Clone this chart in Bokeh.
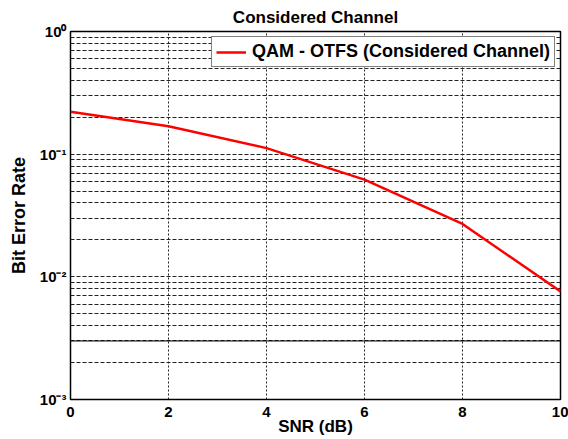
from bokeh.plotting import figure
from bokeh.models import Range1d, FixedTicker, Span, Legend, LegendItem
from bokeh.embed import file_html
from bokeh.resources import INLINE

# data
snr_db = [0, 2, 4, 6, 8, 10]
ber = [0.222, 0.169, 0.112, 0.062, 0.027, 0.0076]
series_name = "QAM - OTFS (Considered Channel)"
title_text = "Considered Channel"

x_ticks = [0, 2, 4, 6, 8, 10]
y_major = [0.001, 0.01, 0.1, 1]
y_labels = ["10\u207b\u00b3", "10\u207b\u00b2", "10\u207b\u00b9", "10\u2070"]
y_minor = [m * d for d in [0.001, 0.01, 0.1] for m in [2, 3, 4, 5, 6, 7, 8, 9]]
solid_line_at = 3e-3

FONT = "Liberation Sans"

p = figure(width=568, height=439, output_backend="svg", toolbar_location=None,
           y_axis_type="log", x_range=Range1d(0, 10), y_range=Range1d(1e-3, 1),
           min_border_left=70, min_border_right=8, min_border_top=31, min_border_bottom=40)

p.title.text = title_text
p.title.align = "center"
p.title.text_font = FONT
p.title.text_font_style = "bold"
p.title.text_font_size = "17px"
p.title.text_color = "black"
p.title.standoff = 10

p.background_fill_color = "white"
p.border_fill_color = "white"
p.outline_line_color = "black"
p.outline_line_width = 1.5

# grids
p.xaxis.ticker = FixedTicker(ticks=x_ticks)
p.yaxis.ticker = FixedTicker(ticks=y_major, minor_ticks=y_minor)
p.xgrid.grid_line_color = "#222222"
p.xgrid.grid_line_dash = "2 2"
p.xgrid.grid_line_width = 1
p.ygrid.grid_line_color = "#222222"
p.ygrid.grid_line_dash = "4 2"
p.ygrid.grid_line_width = 1
p.ygrid.minor_grid_line_color = "#222222"
p.ygrid.minor_grid_line_dash = "4 2"
p.ygrid.minor_grid_line_width = 1

p.add_layout(Span(location=solid_line_at, dimension="width", line_color="black", line_width=1))

# axes
for ax in [p.xaxis[0], p.yaxis[0]]:
    ax.axis_line_color = "black"
    ax.major_tick_in = 0
    ax.major_tick_out = 0
    ax.minor_tick_in = 0
    ax.minor_tick_out = 0
    ax.major_label_text_font = FONT
    ax.major_label_text_font_style = "bold"
    ax.major_label_text_font_size = "15px"
    ax.major_label_text_color = "black"
    ax.axis_label_text_font = FONT
    ax.axis_label_text_font_style = "bold"
    ax.axis_label_text_font_size = "17px"
    ax.axis_label_text_color = "black"

p.xaxis.axis_label = "SNR (dB)"
p.xaxis.major_label_standoff = 7
p.xaxis.axis_label_standoff = -3

p.yaxis.axis_label = "Bit Error Rate"
p.yaxis.axis_label_text_font_size = "18px"
p.yaxis.major_label_overrides = dict(zip(y_major, y_labels))
p.yaxis.major_label_standoff = 4
p.yaxis.axis_label_standoff = 8

r = p.line(snr_db, ber, line_color="#ff0000", line_width=2.5)

legend = Legend(items=[LegendItem(label=series_name, renderers=[r])], location="top_right")
legend.margin = 5
legend.padding = 4
legend.spacing = 0
legend.glyph_width = 30
legend.glyph_height = 20
legend.label_height = 20
legend.label_standoff = 6
legend.label_text_font = FONT
legend.label_text_font_style = "bold"
legend.label_text_font_size = "18px"
legend.label_text_color = "black"
legend.border_line_color = "black"
legend.border_line_width = 1
legend.background_fill_color = "white"
legend.background_fill_alpha = 1
p.add_layout(legend)

open("out.html", "w").write(file_html(p, INLINE))
